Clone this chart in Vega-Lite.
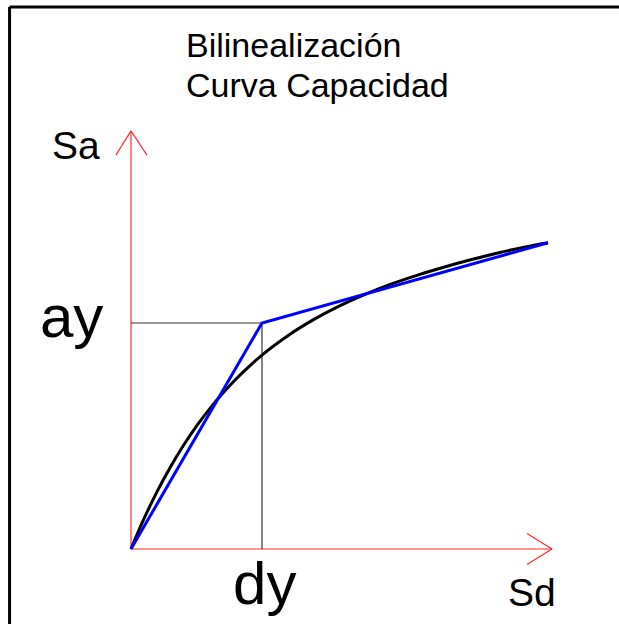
{
  "$schema": "https://vega.github.io/schema/vega-lite/v6.json",
  "autosize": {"type": "fit", "contains": "padding"},
  "width": 619,
  "height": 624,
  "padding": 0,
  "background": "white",
  "config": {"view": {"stroke": null}, "font": "Liberation Sans"},
  "datasets": {
    "capacity": [
      {"sd": 0.0, "sa": 0.0},
      {"sd": 0.1, "sa": 0.135},
      {"sd": 0.2, "sa": 0.255},
      {"sd": 0.3, "sa": 0.362},
      {"sd": 0.4, "sa": 0.458},
      {"sd": 0.5, "sa": 0.544},
      {"sd": 0.6, "sa": 0.620},
      {"sd": 0.7, "sa": 0.689},
      {"sd": 0.8, "sa": 0.751},
      {"sd": 0.9, "sa": 0.807},
      {"sd": 1.0, "sa": 0.858},
      {"sd": 1.2, "sa": 0.945},
      {"sd": 1.4, "sa": 1.017},
      {"sd": 1.6, "sa": 1.078},
      {"sd": 1.8, "sa": 1.130},
      {"sd": 2.0, "sa": 1.175},
      {"sd": 2.2, "sa": 1.214},
      {"sd": 2.4, "sa": 1.249},
      {"sd": 2.6, "sa": 1.281},
      {"sd": 2.8, "sa": 1.310},
      {"sd": 3.0, "sa": 1.335},
      {"sd": 3.183, "sa": 1.355}
    ],
    "bilinear": [
      {"sd": 0.0, "sa": 0.0},
      {"sd": 1.0, "sa": 1.0},
      {"sd": 3.183, "sa": 1.355}
    ],
    "segments": [
      {"part": "axis", "sd": 0.0, "sa": 0.0, "sd2": 0.0, "sa2": 1.850},
      {"part": "axis", "sd": -0.115, "sa": 1.743, "sd2": 0.0, "sa2": 1.850},
      {"part": "axis", "sd": 0.122, "sa": 1.743, "sd2": 0.0, "sa2": 1.850},
      {"part": "axis", "sd": 0.0, "sa": 0.0, "sd2": 3.214, "sa2": 0.0},
      {"part": "axis", "sd": 3.023, "sa": 0.069, "sd2": 3.214, "sa2": 0.0},
      {"part": "axis", "sd": 3.023, "sa": -0.069, "sd2": 3.214, "sa2": 0.0},
      {"part": "yield", "sd": 0.0, "sa": 1.0, "sd2": 1.0, "sa2": 1.0},
      {"part": "yield", "sd": 1.0, "sa": 0.0, "sd2": 1.0, "sa2": 1.0},
      {"part": "frame", "sd": -0.927, "sa": 2.398, "sd2": 3.9, "sa2": 2.398},
      {"part": "frame", "sd": -0.927, "sa": -0.5, "sd2": -0.927, "sa2": 2.398}
    ],
    "labels": [
      {"role": "title", "text": "Bilinealización", "sd": 0.42, "sa": 2.175},
      {"role": "title", "text": "Curva Capacidad", "sd": 0.42, "sa": 1.998},
      {"role": "axis", "text": "Sa", "sd": -0.603, "sa": 1.726},
      {"role": "axis", "text": "Sd", "sd": 2.878, "sa": -0.252},
      {"role": "yield", "text": "ay", "sd": -0.695, "sa": 0.938},
      {"role": "yield", "text": "dy", "sd": 0.779, "sa": -0.245}
    ]
  },
  "layer": [
    {
      "data": {"name": "segments"},
      "transform": [{"filter": "datum.part === 'frame'"}],
      "mark": {"type": "rule", "color": "black", "strokeWidth": 3, "clip": true},
      "encoding": {
        "x": {"field": "sd", "type": "quantitative", "scale": {"domain": [-1.0, 3.7252], "nice": false, "zero": false}, "axis": null},
        "y": {"field": "sa", "type": "quantitative", "scale": {"domain": [-0.3319, 2.4292], "nice": false, "zero": false}, "axis": null},
        "x2": {"field": "sd2"},
        "y2": {"field": "sa2"}
      }
    },
    {
      "data": {"name": "segments"},
      "transform": [{"filter": "datum.part === 'axis'"}],
      "mark": {"type": "rule", "color": "#ff2a2a", "strokeWidth": 1.2},
      "encoding": {
        "x": {"field": "sd", "type": "quantitative"},
        "y": {"field": "sa", "type": "quantitative"},
        "x2": {"field": "sd2"},
        "y2": {"field": "sa2"}
      }
    },
    {
      "data": {"name": "segments"},
      "transform": [{"filter": "datum.part === 'yield'"}],
      "mark": {"type": "rule", "color": "#333333", "strokeWidth": 1.2},
      "encoding": {
        "x": {"field": "sd", "type": "quantitative"},
        "y": {"field": "sa", "type": "quantitative"},
        "x2": {"field": "sd2"},
        "y2": {"field": "sa2"}
      }
    },
    {
      "data": {"name": "capacity"},
      "mark": {"type": "line", "color": "black", "strokeWidth": 3, "interpolate": "monotone"},
      "encoding": {
        "x": {"field": "sd", "type": "quantitative"},
        "y": {"field": "sa", "type": "quantitative"}
      }
    },
    {
      "data": {"name": "bilinear"},
      "mark": {"type": "line", "color": "#0000ff", "strokeWidth": 3},
      "encoding": {
        "x": {"field": "sd", "type": "quantitative"},
        "y": {"field": "sa", "type": "quantitative"}
      }
    },
    {
      "data": {"name": "labels"},
      "transform": [{"filter": "datum.role === 'title'"}],
      "mark": {"type": "text", "align": "left", "baseline": "alphabetic", "fontSize": 34, "color": "black"},
      "encoding": {
        "x": {"field": "sd", "type": "quantitative"},
        "y": {"field": "sa", "type": "quantitative"},
        "text": {"field": "text"}
      }
    },
    {
      "data": {"name": "labels"},
      "transform": [{"filter": "datum.role === 'axis'"}],
      "mark": {"type": "text", "align": "left", "baseline": "alphabetic", "fontSize": 39, "color": "black"},
      "encoding": {
        "x": {"field": "sd", "type": "quantitative"},
        "y": {"field": "sa", "type": "quantitative"},
        "text": {"field": "text"}
      }
    },
    {
      "data": {"name": "labels"},
      "transform": [{"filter": "datum.role === 'yield'"}],
      "mark": {"type": "text", "align": "left", "baseline": "alphabetic", "fontSize": 60, "color": "black"},
      "encoding": {
        "x": {"field": "sd", "type": "quantitative"},
        "y": {"field": "sa", "type": "quantitative"},
        "text": {"field": "text"}
      }
    }
  ]
}
